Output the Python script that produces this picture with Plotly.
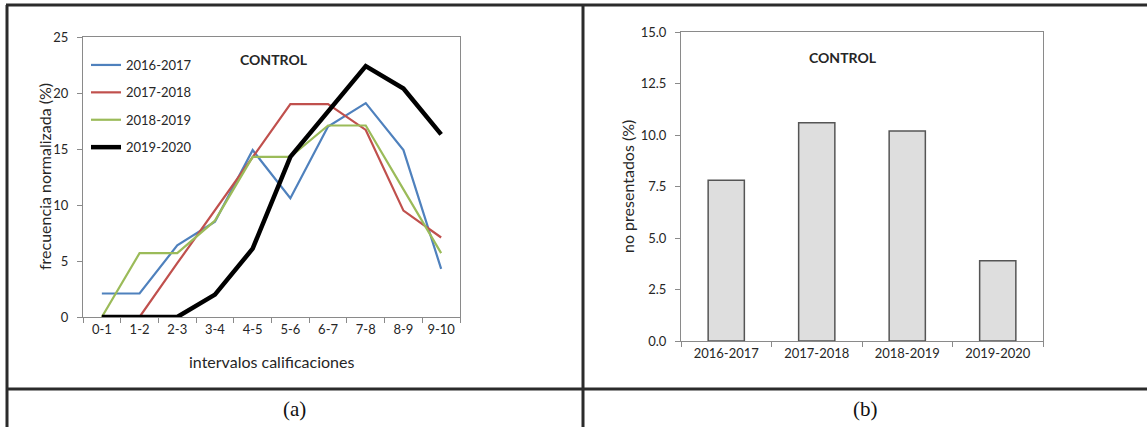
import plotly.graph_objects as go

W, H = 1147, 427

intervals = ["0-1", "1-2", "2-3", "3-4", "4-5", "5-6", "6-7", "7-8", "8-9", "9-10"]
s_2016_2017 = [2.1, 2.1, 6.4, 8.5, 14.9, 10.6, 17.0, 19.1, 14.9, 4.3]
s_2017_2018 = [0.0, 0.0, 4.8, 9.5, 14.3, 19.0, 19.0, 16.7, 9.5, 7.1]
s_2018_2019 = [0.0, 5.7, 5.7, 8.6, 14.3, 14.3, 17.1, 17.1, 11.4, 5.7]
s_2019_2020 = [0.0, 0.0, 0.0, 2.0, 6.1, 14.3, 18.4, 22.4, 20.4, 16.3]

courses = ["2016-2017", "2017-2018", "2018-2019", "2019-2020"]
no_presentados = [7.8, 10.6, 10.2, 3.9]

FONT = "Lato"
TXT = "#262626"
AX = "#8a8a8a"

def px(x):
    return x / W

def py(y):
    return 1 - y / H

fig = go.Figure()

series = [
    ("2016-2017", s_2016_2017, "#4f81bd", 2.2),
    ("2017-2018", s_2017_2018, "#c0504d", 2.2),
    ("2018-2019", s_2018_2019, "#9bbb59", 2.2),
    ("2019-2020", s_2019_2020, "#000000", 4.5),
]
for name, vals, col, w in series:
    fig.add_trace(go.Scatter(
        x=intervals, y=vals, mode="lines", name=name, legendgroup=name,
        line=dict(color=col, width=w), xaxis="x", yaxis="y"))

fig.add_trace(go.Bar(
    x=courses, y=no_presentados, xaxis="x2", yaxis="y2", showlegend=False,
    marker=dict(color="#dedede", line=dict(color="#555555", width=1.5))))

axis_common = dict(
    showline=True, linecolor=AX, linewidth=1, mirror=True,
    showgrid=False, zeroline=False, ticks="outside", ticklen=5,
    tickcolor=AX, tickfont=dict(family=FONT, size=13, color=TXT),
    automargin=False,
)

fig.update_layout(
    width=W, height=H, autosize=False,
    margin=dict(l=0, r=0, t=0, b=0, pad=0, autoexpand=False),
    paper_bgcolor="white", plot_bgcolor="white",
    font=dict(family=FONT, size=13, color=TXT),
    bargap=0.6,
    xaxis=dict(domain=[px(83), px(460)], anchor="y", type="category",
               range=[-0.5, 9.5], tickson="boundaries", **axis_common),
    yaxis=dict(domain=[py(317), py(37)], anchor="x", range=[0, 25],
               dtick=5, ticklabelstandoff=6, **axis_common),
    xaxis2=dict(domain=[px(681), px(1043)], anchor="y2", type="category",
                range=[-0.5, 3.5], tickson="boundaries", **axis_common),
    yaxis2=dict(domain=[py(341), py(32)], anchor="x2", range=[0, 15],
                dtick=2.5, tickformat=".1f", ticklabelstandoff=6, **axis_common),
    legend=dict(x=px(86), y=py(50), xanchor="left", yanchor="top",
                bgcolor="rgba(0,0,0,0)", tracegroupgap=7.5,
                font=dict(family=FONT, size=13, color=TXT)),
    showlegend=True,
)

ann = [
    dict(text="<b>CONTROL</b>", x=px(274), y=py(60), size=14),
    dict(text="<b>CONTROL</b>", x=px(843), y=py(57), size=14),
    dict(text="intervalos calificaciones", x=px(271), y=py(361), size=16),
    dict(text="frecuencia normalizada (%)", x=px(44), y=py(177), textangle=-90, size=16),
    dict(text="no presentados (%)", x=px(627), y=py(187), textangle=-90, size=16),
]
for a in ann:
    size = a.pop("size")
    fig.add_annotation(xref="paper", yref="paper", showarrow=False,
                       xanchor="center", yanchor="middle",
                       font=dict(family=FONT, size=size, color=TXT), **a)

for lab, cx in [("(a)", 294), ("(b)", 865)]:
    fig.add_annotation(xref="paper", yref="paper", showarrow=False,
                       x=px(cx), y=py(409), xanchor="center", yanchor="middle",
                       text=lab, font=dict(family="Liberation Serif", size=21, color="#111"))

LC = "#2b2b2b"
lines = [
    (6, 5, W, 5),
    (6, 389, W, 389),
    (7, 5, 7, H),
    (583, 5, 583, H),
]
for x0, y0, x1, y1 in lines:
    fig.add_shape(type="line", xref="paper", yref="paper",
                  x0=px(x0), y0=py(y0), x1=px(x1), y1=py(y1),
                  line=dict(color=LC, width=3))

post = (
    "document.documentElement.style.margin='0';"
    "document.documentElement.style.padding='0';"
    "document.documentElement.style.overflow='hidden';"
    "document.body.style.margin='0';"
    "document.body.style.padding='0';"
    "document.body.style.overflow='hidden';"
    "var gd=document.getElementById('{plot_id}');"
    "gd.style.position='fixed';gd.style.top='0';gd.style.left='0';"
)

fig.write_html(
    "out.html",
    config={"displayModeBar": False, "responsive": False},
    post_script=post,
)
